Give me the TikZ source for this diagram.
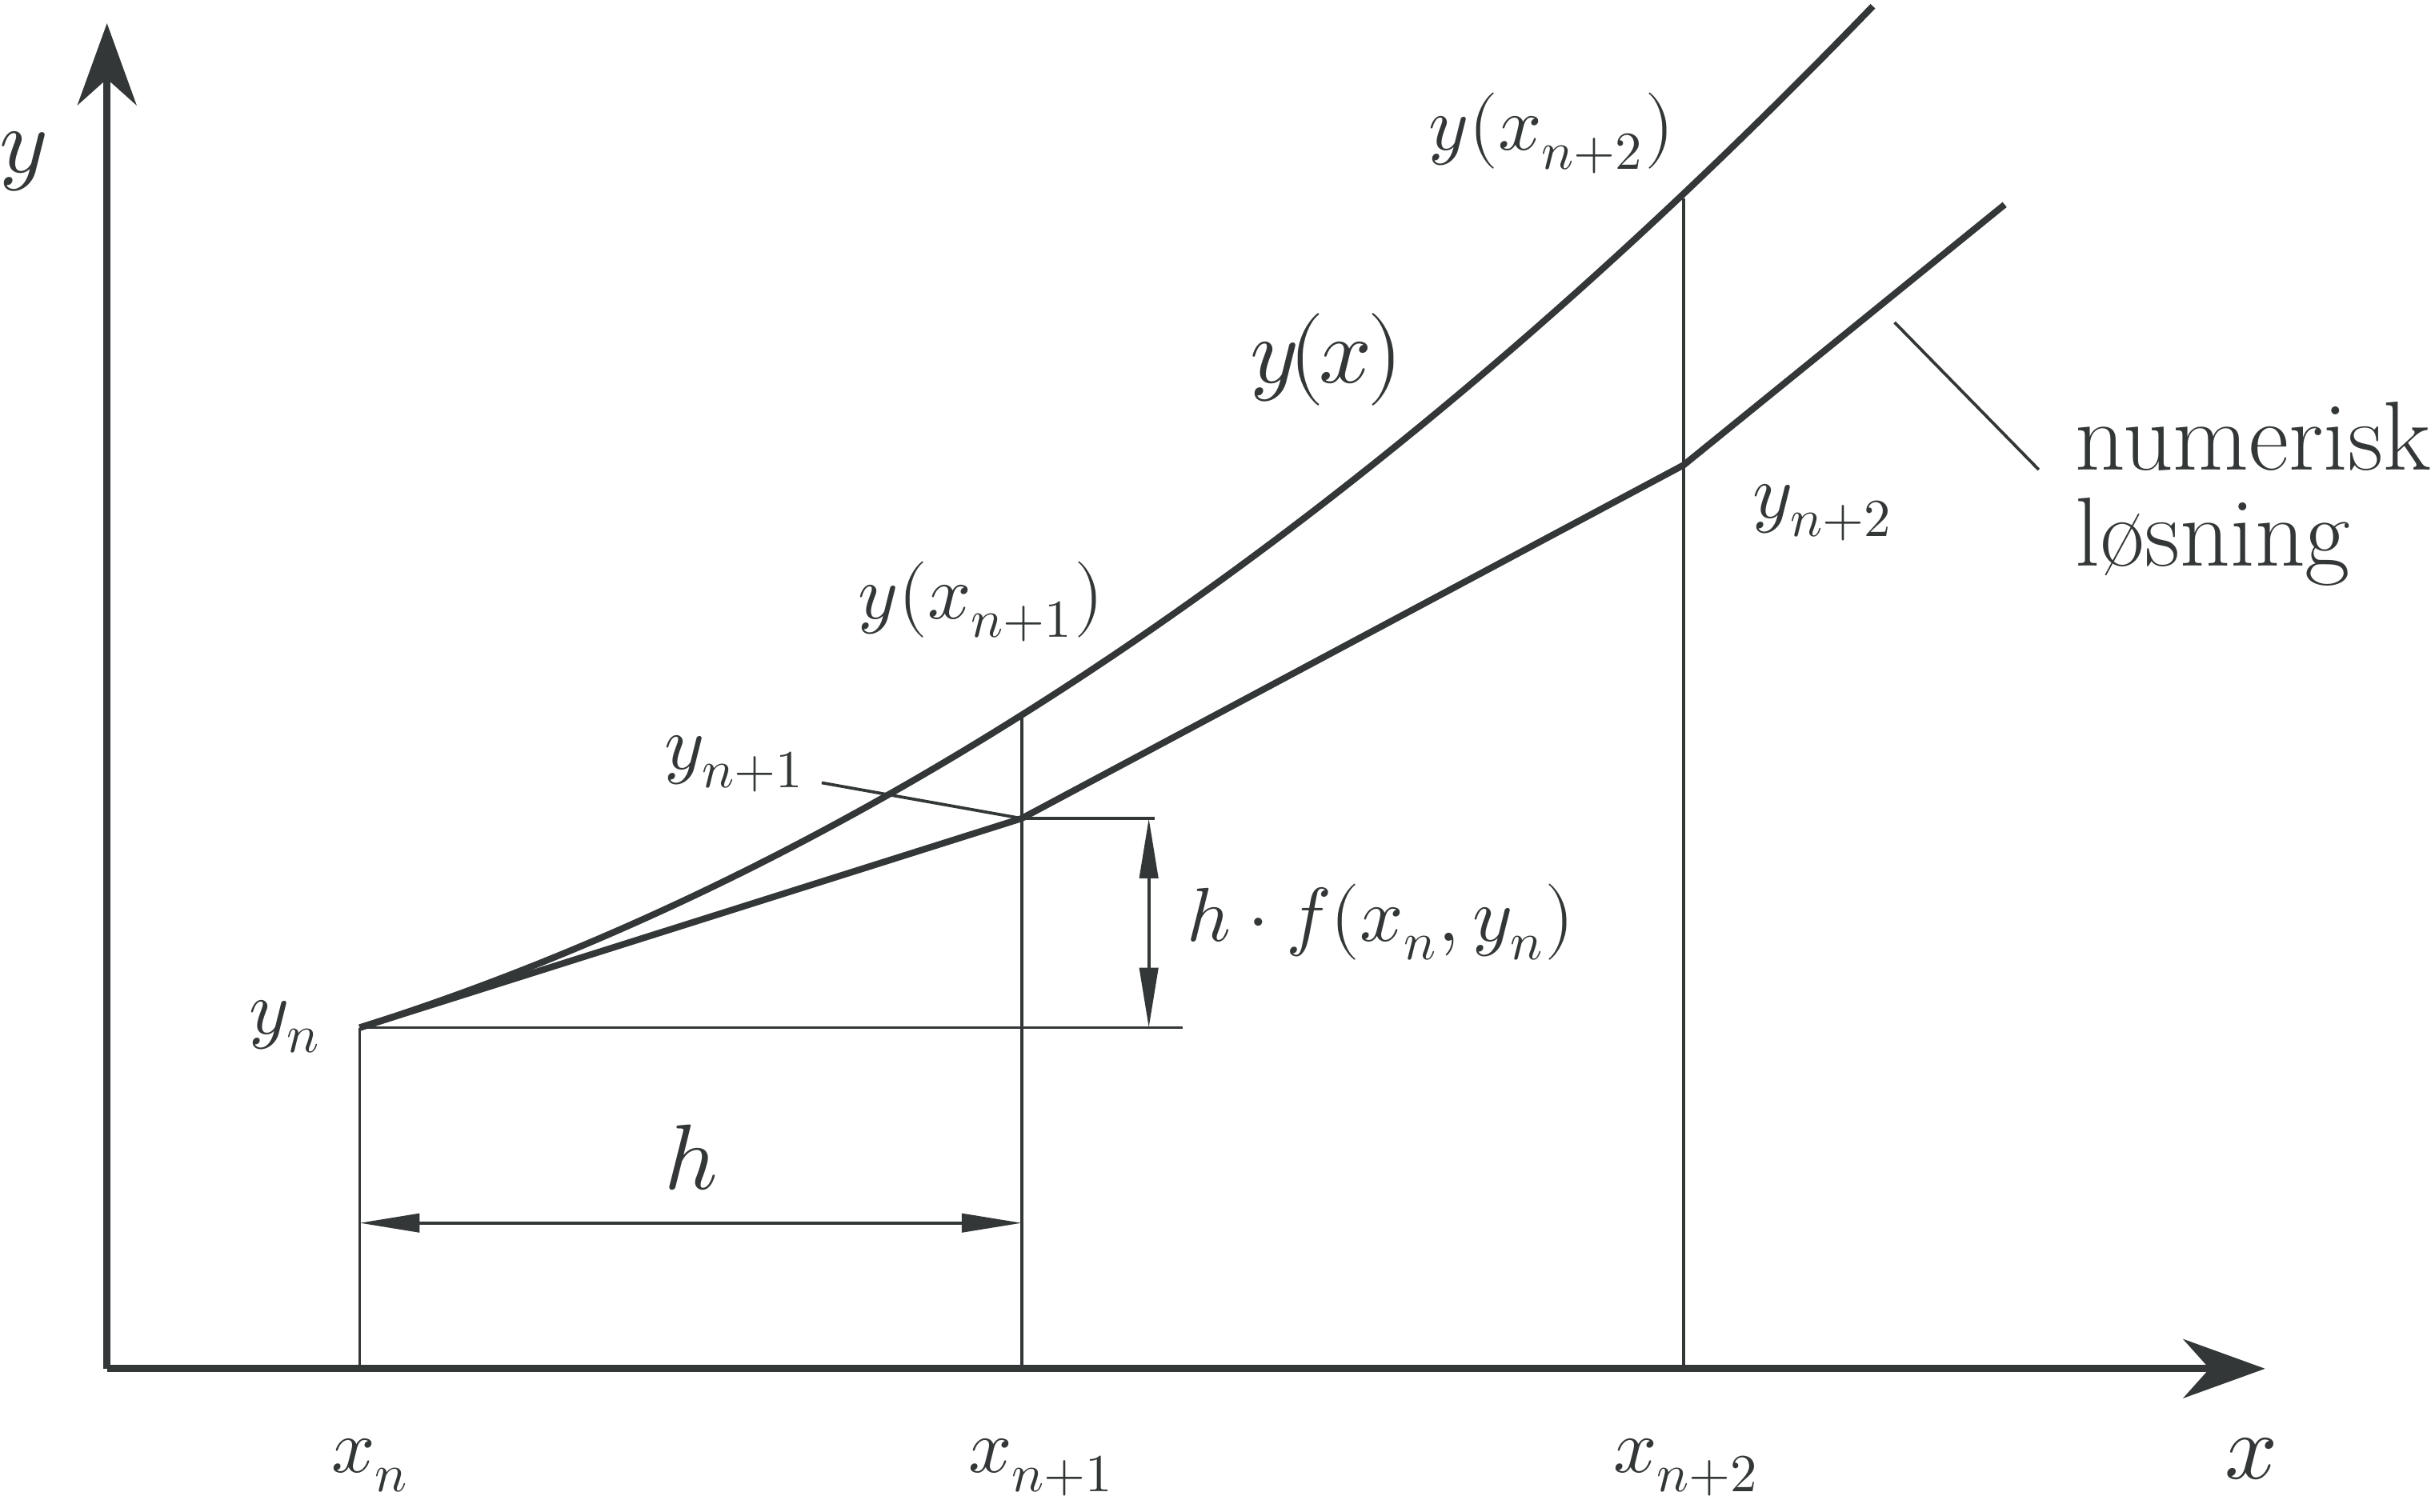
\documentclass[tikz,border=0pt]{standalone}
\usepackage{fontspec}
\usepackage{unicode-math}
\usetikzlibrary{arrows.meta}
\definecolor{ink}{RGB}{51,55,56}
\begin{document}
\begin{tikzpicture}[x=0.01cm,y=-0.01cm, line join=round,
  every node/.style={text=ink},
  axis/.style={draw=ink, line width=1.3pt, -{Stealth[length=15pt,width=10.8pt,inset=4.8pt]}},
  curve/.style={draw=ink, line width=1.2pt},
  thinline/.style={draw=ink, line width=0.55pt},
  dimline/.style={draw=ink, line width=0.55pt, {Triangle[length=11pt,width=3.4pt]}-{Triangle[length=11pt,width=3.4pt]}},
  lbl/.style={font=\fontsize{14}{17}\selectfont, inner sep=0pt},
  biglbl/.style={font=\fontsize{17}{20}\selectfont, inner sep=0pt},
  txt/.style={font=\fontsize{18}{21}\selectfont, inner sep=0pt, anchor=base west},
]
\useasboundingbox (0,0) rectangle (1568,975);

% coordinates
\coordinate (O) at (69,883);
\coordinate (Ytip) at (69,15);
\coordinate (Xtip) at (1461,883);
\coordinate (Pn) at (232,663);
\coordinate (Bn) at (232,883);
\coordinate (Pe1) at (659,462);
\coordinate (P1) at (659,528);
\coordinate (B1) at (659,883);
\coordinate (Pe2) at (1086,128);
\coordinate (P2) at (1086,300);
\coordinate (B2) at (1086,883);
\coordinate (Pend) at (1293,132);
\coordinate (Eend) at (1208,4);
\coordinate (Hn) at (763,663);
\coordinate (H1) at (745,528);
\coordinate (Dt) at (741,528);
\coordinate (Db) at (741,663);
\coordinate (Ha) at (232,789);
\coordinate (Hb) at (659,789);
\coordinate (L1) at (530,505);
\coordinate (L2a) at (1222,208);
\coordinate (L2b) at (1315,303);

% axes
\draw[axis] (O) -- (Ytip);
\draw[axis] (O) -- (Xtip);

% thin construction lines
\draw[thinline] (Bn) -- (Pn);
\draw[thinline] (B1) -- (Pe1);
\draw[thinline] (B2) -- (Pe2);
\draw[thinline] (Pn) -- (Hn);
\draw[thinline] (P1) -- (H1);
\draw[thinline] (L1) -- (P1);
\draw[thinline] (L2a) -- (L2b);

% dimension arrows
\draw[dimline] (Dt) -- (Db);
\draw[dimline] (Ha) -- (Hb);

% exact solution
\draw[curve] (Pn) .. controls (558.7,559.8) and (883,340.7) .. (Eend);

% numerical solution
\draw[curve] (Pn) -- (P1) -- (P2) -- (Pend);

% labels
\node[biglbl, anchor=base] (ylab) at (15,111) {$y$};
\node[biglbl, anchor=base] (xlab) at (1452,954) {$x$};
\node[lbl, anchor=base west] (xn) at (213,950) {$x_{n}$};
\node[lbl, anchor=base west] (xn1) at (624,950) {$x_{n+1}$};
\node[lbl, anchor=base west] (xn2) at (1040,950) {$x_{n+2}$};
\node[lbl, anchor=base west] (yn) at (160,667) {$y_{n}$};
\node[lbl, anchor=base west] (yn1) at (428,496) {$y_{n+1}$};
\node[lbl, anchor=base west] (yxn1) at (553,399) {$y(x_{n+1})$};
\node[lbl, anchor=base west] (yxn2) at (921,97) {$y(x_{n+2})$};
\node[biglbl, anchor=base west] (yx) at (806,247) {$y\mkern-2mu(\mkern-1mu x\mkern-1mu)$};
\node[lbl, anchor=base west] (yn2) at (1130,334) {$y_{n+2}$};
\node[lbl, anchor=base west] (hf) at (765,607) {$h\cdot f(x_{n},y_{n})$};
\node[biglbl, anchor=base] (hlab) at (446,767) {$h$};
\node[txt] (num1) at (1338,303) {numerisk};
\node[txt] (num2) at (1338,365) {løsning};
\end{tikzpicture}
\end{document}
